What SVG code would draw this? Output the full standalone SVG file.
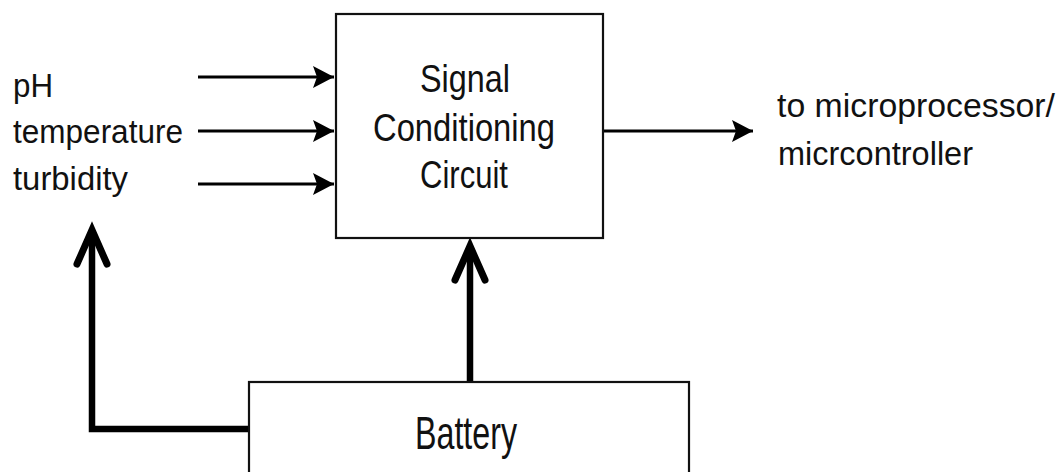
<svg xmlns="http://www.w3.org/2000/svg" width="1057" height="472" viewBox="0 0 1057 472">
<style>
.box{fill:#fff;stroke:#111;stroke-width:2.2}
.t{font-family:"Liberation Sans",Arial,sans-serif;fill:#111}
.thin{stroke:#000;stroke-width:3;fill:none}
.thick{stroke:#000;stroke-width:6.5;fill:none;stroke-linejoin:miter}
.chev{stroke:#000;stroke-width:7;fill:none;stroke-linecap:round;stroke-linejoin:miter}
</style>
<defs>
<marker id="ah" markerUnits="userSpaceOnUse" markerWidth="22" markerHeight="24" refX="21" refY="11" orient="auto">
<path d="M0,0 L21,11 L0,22 L4,11 Z" fill="#000"/>
</marker>
</defs>
<rect width="1057" height="472" fill="#fff"/>
<g id="connectors">
<line class="thin" x1="198" y1="77" x2="334" y2="77" marker-end="url(#ah)"/>
<line class="thin" x1="198" y1="131" x2="334" y2="131" marker-end="url(#ah)"/>
<line class="thin" x1="198" y1="184" x2="334" y2="184" marker-end="url(#ah)"/>
<line class="thin" x1="604" y1="131" x2="753" y2="131" marker-end="url(#ah)"/>
<polyline class="thick" points="249,429 92,429 92,232"/>
<polyline class="chev" points="77,264 92,230 107,264"/>
<line class="thick" x1="470" y1="382" x2="470" y2="248"/>
<polyline class="chev" points="455,280 470,246 485,280"/>
</g>
<g id="signal-conditioning">
<rect class="box" x="336" y="14" width="267" height="224"/>
<text class="t" x="465" y="92" font-size="39" text-anchor="middle" textLength="90" lengthAdjust="spacingAndGlyphs">Signal</text>
<text class="t" x="464" y="141" font-size="39" text-anchor="middle" textLength="182" lengthAdjust="spacingAndGlyphs">Conditioning</text>
<text class="t" x="464" y="188" font-size="39" text-anchor="middle" textLength="88" lengthAdjust="spacingAndGlyphs">Circuit</text>
</g>
<g id="battery">
<rect class="box" x="249" y="382" width="440" height="110"/>
<text class="t" x="466" y="449" font-size="46" text-anchor="middle" textLength="102" lengthAdjust="spacingAndGlyphs">Battery</text>
</g>
<g id="inputs">
<text class="t" x="13" y="97" font-size="33" textLength="40" lengthAdjust="spacingAndGlyphs">pH</text>
<text class="t" x="13" y="143" font-size="33" textLength="170" lengthAdjust="spacingAndGlyphs">temperature</text>
<text class="t" x="13" y="190" font-size="33" textLength="115" lengthAdjust="spacingAndGlyphs">turbidity</text>
</g>
<g id="output">
<text class="t" x="777" y="117" font-size="33" textLength="278" lengthAdjust="spacingAndGlyphs">to microprocessor/</text>
<text class="t" x="778" y="165" font-size="33" textLength="195" lengthAdjust="spacingAndGlyphs">micrcontroller</text>
</g>
</svg>
